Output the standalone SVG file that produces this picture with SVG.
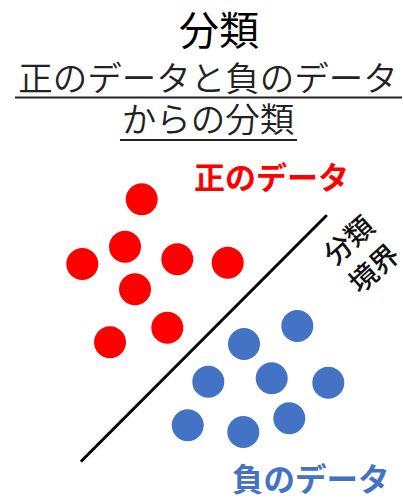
<svg xmlns="http://www.w3.org/2000/svg" width="404" height="500" viewBox="0 0 404 500">
  <style>
    text { font-family: "Noto Sans CJK JP", "Noto Sans", sans-serif; }
    .title { font-size: 40px; font-weight: 400; fill: #000; text-anchor: middle; }
    .sub { font-size: 34.5px; font-weight: 350; fill: #222; text-anchor: middle; }
    .ul { stroke: #222; stroke-width: 2; }
    .pos { fill: #FF0000; }
    .neg { fill: #4472C4; }
    .lblpos { font-size: 31px; font-weight: bold; fill: #FF0000; }
    .lblneg { font-size: 31.5px; font-weight: bold; fill: #4472C4; }
    .bnd { font-size: 28px; font-weight: 500; fill: #111; }
  </style>
  <rect width="404" height="500" fill="#fff"/>

  <g id="title">
    <text class="title" x="219" y="45">分類</text>
    <text class="sub" x="208" y="91">正のデータと負のデータ</text>
    <line class="ul" x1="15" y1="97.5" x2="402" y2="97.5"/>
    <text class="sub" x="208" y="132">からの分類</text>
    <line class="ul" x1="120" y1="140" x2="297" y2="140"/>
  </g>

  <g id="positive-data">
    <circle class="pos" cx="141.7" cy="199.3" r="16"/>
    <circle class="pos" cx="125" cy="246.7" r="16"/>
    <circle class="pos" cx="82.3" cy="264" r="16"/>
    <circle class="pos" cx="177.3" cy="259.3" r="16"/>
    <circle class="pos" cx="227.7" cy="262.7" r="16"/>
    <circle class="pos" cx="135" cy="289.3" r="16"/>
    <circle class="pos" cx="167.3" cy="327.7" r="16"/>
    <circle class="pos" cx="110" cy="342.3" r="16"/>
  </g>

  <g id="negative-data">
    <circle class="neg" cx="297.3" cy="326" r="16"/>
    <circle class="neg" cx="244" cy="344" r="16"/>
    <circle class="neg" cx="208.3" cy="381.7" r="16"/>
    <circle class="neg" cx="271.7" cy="378.3" r="16"/>
    <circle class="neg" cx="328.3" cy="382.7" r="16"/>
    <circle class="neg" cx="187.7" cy="425.3" r="16"/>
    <circle class="neg" cx="243.3" cy="432" r="16"/>
    <circle class="neg" cx="289.3" cy="418.3" r="16"/>
  </g>

  <g id="connectors">
    <line x1="81.7" y1="460.7" x2="326" y2="216" stroke="#000" stroke-width="3" stroke-linecap="round"/>
  </g>

  <g id="label-positive">
    <text class="lblpos" x="194" y="189">正のデータ</text>
  </g>

  <g id="label-negative">
    <text class="lblneg" x="232" y="491">負のデータ</text>
  </g>

  <g id="label-boundary" transform="translate(338.5,250) rotate(-42)">
    <text class="bnd" x="-14" y="10">分類</text>
    <text class="bnd" x="-14" y="47.5">境界</text>
  </g>
</svg>
